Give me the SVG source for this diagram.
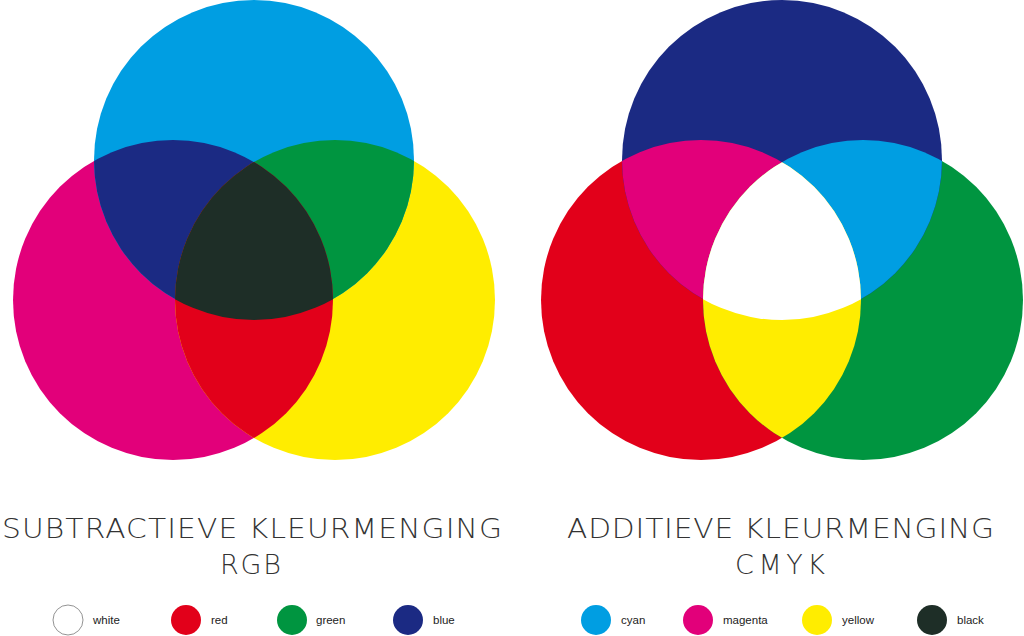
<svg xmlns="http://www.w3.org/2000/svg" width="1024" height="636" viewBox="0 0 1024 636">
<style>
.title{font-family:"DejaVu Sans","Liberation Sans",sans-serif;font-weight:200;font-size:27px;fill:#333}
.lbl{font-family:"Liberation Sans",Arial,sans-serif;font-size:11.5px;fill:#222}
</style>
<defs>
<clipPath id="cM"><circle cx="173" cy="300" r="160"/></clipPath>
<clipPath id="cY"><circle cx="335" cy="300" r="160"/></clipPath>
<clipPath id="cR"><circle cx="701" cy="300" r="160"/></clipPath>
<clipPath id="cG"><circle cx="863" cy="300" r="160"/></clipPath>
</defs>
<rect width="1024" height="636" fill="#fff"/>
<g id="rgb-diagram">
<circle cx="173" cy="300" r="160" fill="#E2007A"/>
<circle cx="335" cy="300" r="160" fill="#FFED00"/>
<circle cx="254" cy="160" r="160" fill="#009EE2"/>
<circle cx="254" cy="160" r="160" fill="#1B2A83" clip-path="url(#cM)"/>
<circle cx="254" cy="160" r="160" fill="#009540" clip-path="url(#cY)"/>
<circle cx="173" cy="300" r="160" fill="#E2001A" clip-path="url(#cY)"/>
<g clip-path="url(#cY)"><circle cx="254" cy="160" r="160" fill="#1E2E27" clip-path="url(#cM)"/></g>
</g>
<g id="cmyk-diagram">
<circle cx="701" cy="300" r="160" fill="#E2001A"/>
<circle cx="863" cy="300" r="160" fill="#009540"/>
<circle cx="782" cy="160" r="160" fill="#1B2A83"/>
<circle cx="782" cy="160" r="160" fill="#E2007A" clip-path="url(#cR)"/>
<circle cx="782" cy="160" r="160" fill="#009EE2" clip-path="url(#cG)"/>
<circle cx="701" cy="300" r="160" fill="#FFED00" clip-path="url(#cG)"/>
<g clip-path="url(#cG)"><circle cx="782" cy="160" r="160" fill="#FFFFFF" clip-path="url(#cR)"/></g>
</g>
<g id="titles">
<g transform="scale(1.1,1)">
<text class="title" x="1.8" y="538" textLength="454.5" lengthAdjust="spacing">SUBTRACTIEVE  KLEURMENGING</text>
<text class="title" x="515.5" y="538" textLength="388.2" lengthAdjust="spacing">ADDITIEVE  KLEURMENGING</text>
</g>
<text class="title" x="220" y="574" textLength="61" lengthAdjust="spacing">RGB</text>
<text class="title" x="735" y="574" textLength="90" lengthAdjust="spacing">CMYK</text>
</g>
<g id="legend-rgb">
<g id="leg-white"><circle cx="68" cy="620" r="15" fill="#fff" stroke="#777" stroke-width="0.8"/><text class="lbl" x="93" y="624">white</text></g>
<g id="leg-red"><circle cx="186" cy="620" r="15" fill="#E2001A"/><text class="lbl" x="211" y="624">red</text></g>
<g id="leg-green"><circle cx="292" cy="620" r="15" fill="#009540"/><text class="lbl" x="316" y="624">green</text></g>
<g id="leg-blue"><circle cx="408" cy="620" r="15" fill="#1B2A83"/><text class="lbl" x="433" y="624">blue</text></g>
</g>
<g id="legend-cmyk">
<g id="leg-cyan"><circle cx="596" cy="620" r="15" fill="#009EE2"/><text class="lbl" x="621" y="624">cyan</text></g>
<g id="leg-magenta"><circle cx="698" cy="620" r="15" fill="#E2007A"/><text class="lbl" x="723" y="624">magenta</text></g>
<g id="leg-yellow"><circle cx="817" cy="620" r="15" fill="#FFED00"/><text class="lbl" x="842" y="624">yellow</text></g>
<g id="leg-black"><circle cx="932" cy="620" r="15" fill="#1E2E27"/><text class="lbl" x="957" y="624">black</text></g>
</g>
</svg>
